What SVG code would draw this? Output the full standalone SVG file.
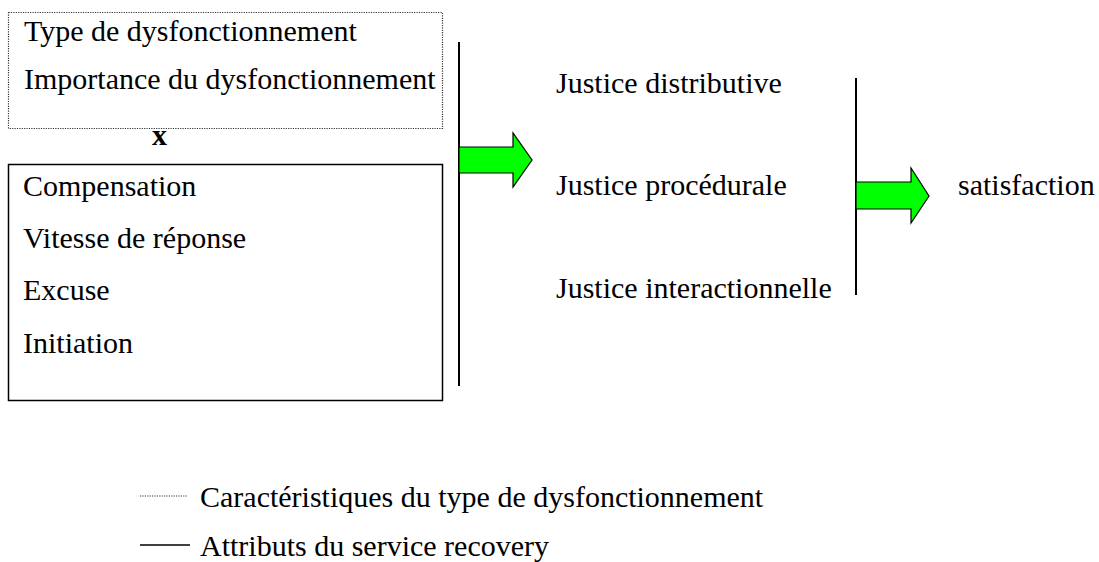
<svg xmlns="http://www.w3.org/2000/svg" width="1099" height="562" viewBox="0 0 1099 562">
  <style>
    text { font-family: "Liberation Serif", "Times New Roman", serif; font-size: 30px; fill: #000; }
    .bold { font-weight: bold; }
    .dotted { fill: none; stroke: #333; stroke-width: 1.2; stroke-dasharray: 1.2 1.2; }
    .solid { fill: none; stroke: #000; stroke-width: 1.5; }
    .bar { stroke: #000; stroke-width: 2; }
    .arrow { fill: #00ff00; stroke: #000; stroke-width: 1.2; stroke-linejoin: miter; }
  </style>

  <!-- failure characteristics (dotted frame) -->
  <g id="node-failure">
    <rect class="dotted" x="8.5" y="12.5" width="434" height="116"/>
    <text x="24" y="41">Type de dysfonctionnement</text>
    <text x="24" y="89">Importance du dysfonctionnement</text>
  </g>

  <!-- interaction sign -->
  <g id="node-times">
    <text class="bold" x="152" y="145">x</text>
  </g>

  <!-- recovery attributes (solid frame) -->
  <g id="node-recovery">
    <rect class="solid" x="8.5" y="164.5" width="434" height="236"/>
    <text x="23" y="196">Compensation</text>
    <text x="23" y="248">Vitesse de réponse</text>
    <text x="23" y="300">Excuse</text>
    <text x="23" y="353">Initiation</text>
  </g>

  <!-- justice dimensions -->
  <g id="node-justice">
    <text x="556" y="93">Justice distributive</text>
    <text x="556" y="195">Justice procédurale</text>
    <text x="556" y="298">Justice interactionnelle</text>
  </g>

  <!-- outcome -->
  <g id="node-satisfaction">
    <text x="958" y="195">satisfaction</text>
  </g>

  <!-- connectors: grouping bars and block arrows -->
  <g id="connectors">
    <line class="bar" x1="459" y1="42" x2="459" y2="386"/>
    <polygon class="arrow" points="459,147 513,147 513,133 532,160 513,187 513,173 459,173"/>
    <line class="bar" x1="856" y1="78" x2="856" y2="295"/>
    <polygon class="arrow" points="856,182 911,182 911,168 929,196 911,223 911,209 856,209"/>
  </g>

  <!-- legend -->
  <g id="legend">
    <line class="dotted" x1="140" y1="496" x2="188" y2="496"/>
    <text x="200" y="507">Caractéristiques du type de dysfonctionnement</text>
    <line class="solid" x1="140" y1="545" x2="190" y2="545"/>
    <text x="200" y="556">Attributs du service recovery</text>
  </g>
</svg>
